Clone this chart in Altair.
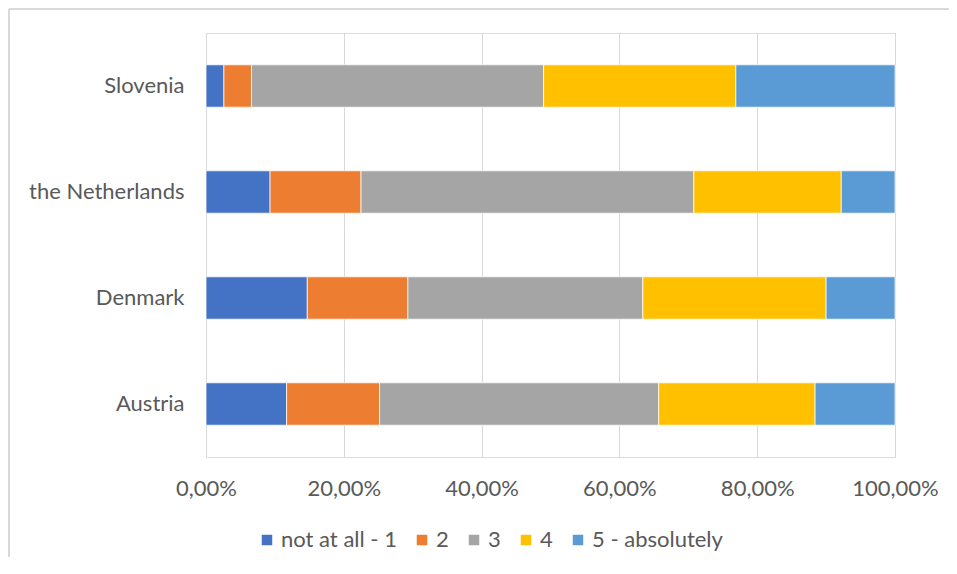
import altair as alt
import pandas as pd

countries = ["Slovenia", "the Netherlands", "Denmark", "Austria"]
levels = ["not at all - 1", "2", "3", "4", "5 - absolutely"]
not_at_all_1 = [2.6, 9.3, 14.7, 11.7]
level_2 = [4.0, 13.2, 14.6, 13.5]
level_3 = [42.4, 48.3, 34.1, 40.5]
level_4 = [27.9, 21.4, 26.6, 22.7]
absolutely_5 = [23.1, 7.8, 10.0, 11.6]
x_ticks = [0, 0.2, 0.4, 0.6, 0.8, 1.0]
colors = ["#4472C4", "#ED7D31", "#A5A5A5", "#FFC000", "#5B9BD5"]

series = [not_at_all_1, level_2, level_3, level_4, absolutely_5]
rows = []
for idx, (lvl, vals) in enumerate(zip(levels, series)):
    for c, v in zip(countries, vals):
        rows.append({"country": c, "level": lvl, "rank": idx, "share": v / 100.0})
df = pd.DataFrame(rows)

FONT = "Lato"
TXT = "#595959"

bars = alt.Chart(df).mark_bar(stroke="white", strokeWidth=0.75).encode(
    x=alt.X(
        "share:Q",
        stack="zero",
        scale=alt.Scale(domain=[0, 1], nice=False),
        axis=alt.Axis(
            values=x_ticks,
            labelExpr="replace(format(datum.value, '.2%'), '.', ',')",
            title=None,
            grid=True,
            gridColor="#D9D9D9",
            gridWidth=1,
            domain=False,
            ticks=False,
            labelFlush=False,
            labelFontSize=22,
            labelColor=TXT,
            labelFont=FONT,
            labelPadding=21,
        ),
    ),
    y=alt.Y(
        "country:N",
        sort=countries,
        scale=alt.Scale(paddingInner=0.6, paddingOuter=0.3),
        axis=alt.Axis(
            title=None,
            domain=False,
            ticks=False,
            labelPadding=22,
            labelFontSize=22,
            labelColor=TXT,
            labelFont=FONT,
        ),
    ),
    color=alt.Color(
        "level:N",
        sort=levels,
        scale=alt.Scale(domain=levels, range=colors),
        legend=alt.Legend(
            title=None,
            orient="none",
            direction="horizontal",
            legendX=50,
            legendY=496,
            symbolType="square",
            symbolSize=110,
            symbolStrokeWidth=0,
            labelFontSize=22,
            labelColor=TXT,
            labelFont=FONT,
            labelOffset=3,
            columnPadding=14,
        ),
    ),
    order=alt.Order("rank:Q"),
)

one = pd.DataFrame({"a": [0]})
left_border = alt.Chart(one).mark_rule(color="#D9D9D9", strokeWidth=2).encode(
    x=alt.value(-197), y=alt.value(-24), y2=alt.value(700)
)
top_border = alt.Chart(one).mark_rule(color="#D9D9D9", strokeWidth=2).encode(
    x=alt.value(-197), x2=alt.value(900), y=alt.value(-24)
)

chart = alt.layer(bars, left_border, top_border).properties(
    width=689,
    height=424,
    autosize=alt.AutoSizeParams(type="none"),
    padding={"left": 198, "top": 25, "right": 54, "bottom": 100},
).configure_view(stroke=None).configure(background="white")

chart.save("out.html", embed_options={"renderer": "svg", "actions": False})
